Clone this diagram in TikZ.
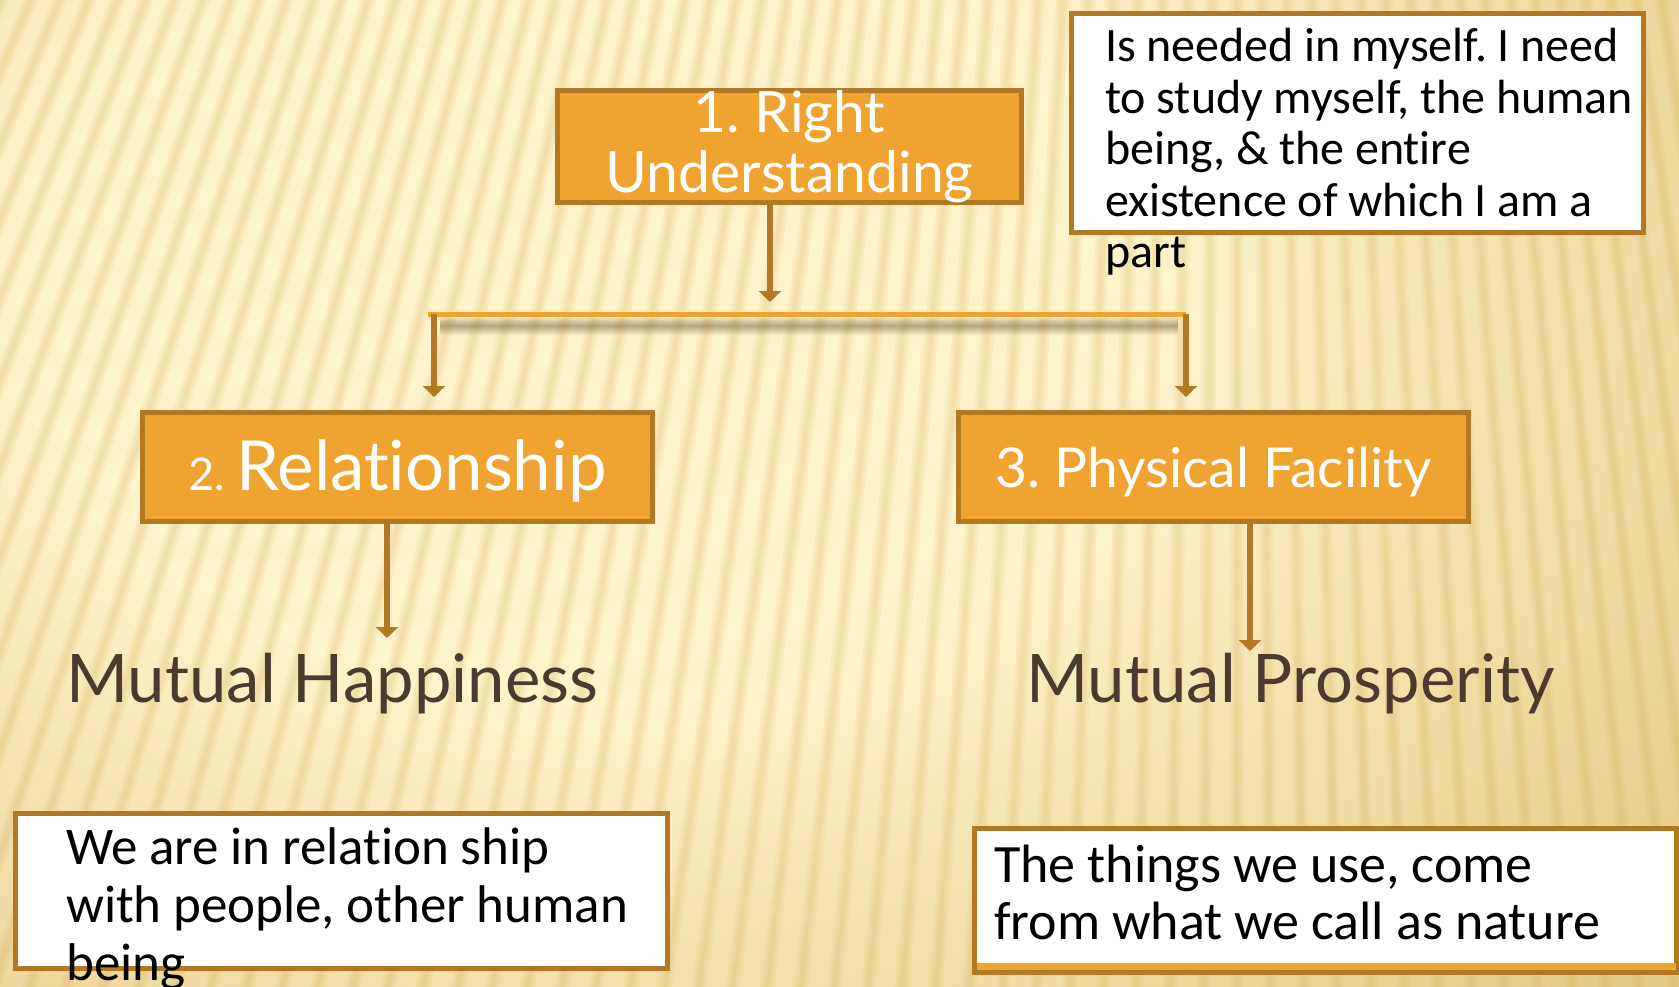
\documentclass[tikz,border=0pt]{standalone}
\usepackage{fontspec}
\setmainfont[Ligatures=NoCommon]{Carlito}
\newfontfamily\labfont[Ligatures=NoCommon]{Lato}
\usetikzlibrary{arrows.meta}
\definecolor{brn}{HTML}{B27823}
\definecolor{org}{HTML}{EFA432}
\definecolor{mut}{HTML}{4B3A2D}
\definecolor{bgA}{HTML}{FFF3CC}
\definecolor{bgB}{HTML}{E5CA85}
\definecolor{strp}{HTML}{D4AE55}
\definecolor{shd}{HTML}{7A6840}
\pgfdeclareradialshading{bgglow}{\pgfpoint{0bp}{0bp}}{color(0bp)=(bgA); color(10bp)=(bgA); color(25bp)=(bgB); color(50bp)=(bgB)}
\frenchspacing
\newcommand\tightspc{\spaceskip=0.22em\relax}
\begin{document}
\begin{tikzpicture}[x=1pt,y=-1pt,
  obox/.style={draw=brn, fill=org, line width=5pt, inner sep=0pt, text=white},
  wbox/.style={draw=brn, fill=white, line width=5pt, inner sep=0pt},
  btext/.style={inner sep=0pt, anchor=base west, text width=700pt, align=left, text=black},
  mtext/.style={inner sep=0pt, anchor=base west, text=mut, font=\labfont\fontsize{67}{67}\selectfont},
  conn/.style={draw=brn, line width=5.5pt, -{Triangle[width=22pt,length=11pt]}}]
\useasboundingbox (0,0) rectangle (1679,987);
% background
\begin{scope}
  \clip (0,0) rectangle (1679,987);
  \fill[bgB] (0,0) rectangle (1679,987);
  \shade[shading=bgglow] (600,300) ellipse [x radius=1400, y radius=1000];
  \foreach \a in {-12,-11.5,...,27}{
    \draw[strp, opacity=0.10, line width=14pt] (1237,-2842) -- ++({-4700*sin(\a)},{4700*cos(\a)});
    \draw[strp, opacity=0.12, line width=8pt] (1237,-2842) -- ++({-4700*sin(\a)},{4700*cos(\a)});
    \draw[strp, opacity=0.06, line width=3.5pt] (1237,-2842) -- ++({-4700*sin(\a)},{4700*cos(\a)});
  }
\end{scope}
% bar shadow
\foreach \i in {0,...,18}{
  \pgfmathsetmacro\op{0.32*(1-abs(\i-9)/9.5)}
  \draw[shd, opacity=\op, line width=1.1pt] (440,{317+\i}) -- (1178,{317+\i});
}
% boxes
\node[obox, minimum width=464pt, minimum height=112pt, align=center,
      font=\labfont\fontsize{57}{60}\selectfont] (ru) at (789.5,146.5) {1. Right\\Understanding};
\node[obox, minimum width=510pt, minimum height=109pt, text height=46pt, text depth=0pt,
      font=\labfont\fontsize{69}{69}\selectfont] (rel) at (397.5,467)
      {{\fontsize{45}{45}\selectfont 2. }Relationship};
\node[obox, minimum width=510pt, minimum height=109pt, text height=40pt, text depth=0pt,
      font=\labfont\fontsize{55}{55}\selectfont] (pf) at (1213.5,467) {3. Physical Facility};
\node[wbox, minimum width=572pt, minimum height=219pt] (ib) at (1357.5,123) {};
\node[wbox, minimum width=652pt, minimum height=155pt] (lb) at (341.5,891) {};
\node[wbox, minimum width=702pt, minimum height=144pt] (rb) at (1325.5,900.5) {};
\fill[org] (977,963) rectangle (1676,970);
% connectors
\coordinate (t1) at (770,302);
\coordinate (bl) at (428,314);
\coordinate (br) at (1186,314);
\coordinate (d2) at (434,397);
\coordinate (d3) at (1186,397);
\coordinate (m2) at (387,638);
\coordinate (m3) at (1250,651);
\draw[org, line width=5pt] (bl) -- (br);
\draw[conn] (ru.south -| t1) -- (t1);
\draw[conn] (d2 |- bl) -- (d2);
\draw[conn] (d3 |- br) -- (d3);
\draw[conn] (rel.south -| m2) -- (m2);
\draw[conn] (pf.south -| m3) -- (m3);
% texts
\node[mtext] (mh) at (66,702) {Mutual Happiness};
\node[mtext] (mp) at (1026,702) {Mutual Prosperity};
\node[btext, font=\fontsize{48}{51.5}\selectfont] (it) at (1105,62)
  {\tightspc Is needed in myself. I need\\to study myself, the human\\being, \& the entire\\existence of which I am a\\part};
\node[btext, font=\fontsize{53}{58}\selectfont] (lt) at (66,864)
  {\tightspc We are in relation ship\\with people, other human\\being};
\node[btext, font=\fontsize{54}{57}\selectfont] (rt) at (994,882)
  {\tightspc The things we use, come\\from what we call as nature};
\end{tikzpicture}
\end{document}
